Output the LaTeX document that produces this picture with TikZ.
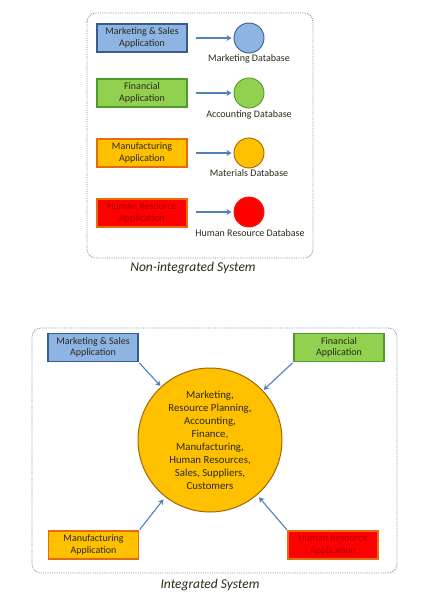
\documentclass[tikz,border=0pt]{standalone}
\usepackage{fontspec}
\setmainfont{Carlito}
\usetikzlibrary{arrows.meta}
\definecolor{bluefill}{HTML}{8EB4E3}
\definecolor{blueline}{HTML}{385D8A}
\definecolor{greenfill}{HTML}{92D050}
\definecolor{greenline}{HTML}{4E9A2E}
\definecolor{orangefill}{HTML}{FFC000}
\definecolor{orangeline}{HTML}{E46C0A}
\definecolor{circleline}{HTML}{A0660A}
\definecolor{redfill}{HTML}{FF0000}
\definecolor{redtext}{HTML}{B00000}
\definecolor{arrowblue}{HTML}{4F81BD}
\definecolor{frame}{HTML}{7F8C99}
\definecolor{ink}{HTML}{2A2A1A}
\begin{document}
\begin{tikzpicture}[x=1pt,y=-1pt, text=ink,
  appbox/.style={draw, line width=1.1pt, minimum width=90pt, minimum height=28pt, inner sep=0pt,
     align=center, font=\fontsize{10}{11.5}\selectfont},
  dbcircle/.style={circle, draw, line width=0.9pt, minimum size=30pt, inner sep=0pt},
  dblabel/.style={font=\fontsize{10}{12}\selectfont, inner sep=0pt},
  flow/.style={draw=arrowblue, line width=1.1pt, -{Stealth[length=5pt,width=6pt]}},
  panel/.style={draw=frame, densely dotted, line width=0.8pt, rounded corners=9pt},
  caption/.style={font=\fontsize{13.5}{15}\selectfont\itshape, inner sep=0pt}]
\useasboundingbox[fill=white] (0,0) rectangle (428,613);

% ---------- Non-integrated ----------
\draw[panel] (87,13) rectangle (313,258);

\node[appbox, fill=bluefill, draw=blueline] (m1) at (142,38) {Marketing \& Sales\\Application};
\node[dbcircle, fill=bluefill, draw=blueline] (d1) at (249,38) {};
\node[dblabel] (l1) at (249,59) {Marketing Database};

\node[appbox, fill=greenfill, draw=greenline] (f1) at (142,93) {Financial\\Application};
\node[dbcircle, fill=greenfill, draw=greenline] (d2) at (249,93) {};
\node[dblabel] (l2) at (249,115) {Accounting Database};

\node[appbox, fill=orangefill, draw=orangeline] (p1) at (142,153) {Manufacturing\\Application};
\node[dbcircle, fill=orangefill, draw=circleline] (d3) at (249,153) {};
\node[dblabel] (l3) at (249,173) {Materials Database};

\node[appbox, fill=redfill, draw=orangeline, text=redtext] (h1) at (142,213) {Human Resource\\Application};
\node[dbcircle, fill=redfill, draw=redfill!85!orange] (d4) at (249,212) {};
\node[dblabel] (l4) at (250,233) {Human Resource Database};

\draw[flow, shorten <=8pt, shorten >=2pt] (m1.east) -- (d1.west);
\draw[flow, shorten <=8pt, shorten >=2pt] (f1.east) -- (d2.west);
\draw[flow, shorten <=8pt, shorten >=2pt] (p1.east) -- (d3.west);
\draw[flow, shorten <=8pt, shorten >=2pt] (h1.east |- d4.west) -- (d4.west);

\node[caption] (cap1) at (193,268) {Non-integrated System};

% ---------- Integrated ----------
\draw[panel] (32,328) rectangle (397,573);

\node[circle, draw=circleline, line width=1pt, fill=orangefill, minimum size=144pt, inner sep=0pt,
      align=center, font=\fontsize{10.8}{13}\selectfont] (c) at (210,440)
  {Marketing,\\Resource Planning,\\Accounting,\\Finance,\\Manufacturing,\\Human Resources,\\Sales, Suppliers,\\Customers};

\node[appbox, fill=bluefill, draw=blueline] (m2) at (93,347.5) {Marketing \& Sales\\Application};
\node[appbox, fill=greenfill, draw=greenline] (f2) at (339,347.5) {Financial\\Application};
\node[appbox, fill=orangefill, draw=orangeline] (p2) at (93.5,545) {Manufacturing\\Application};
\node[appbox, fill=redfill, draw=orangeline, text=redtext] (h2) at (333,545) {Human Resource\\Application};

\draw[flow, shorten <=1pt, shorten >=1pt] (m2.south east) -- (c);
\draw[flow, shorten <=1pt, shorten >=1pt] (f2.south west) -- (c);
\draw[flow, shorten <=1pt, shorten >=3pt] (p2.north east) -- (c);
\draw[flow, shorten <=1pt, shorten >=3pt] (h2.north west) -- (c);

\node[caption] (cap2) at (210,585) {Integrated System};
\end{tikzpicture}
\end{document}
